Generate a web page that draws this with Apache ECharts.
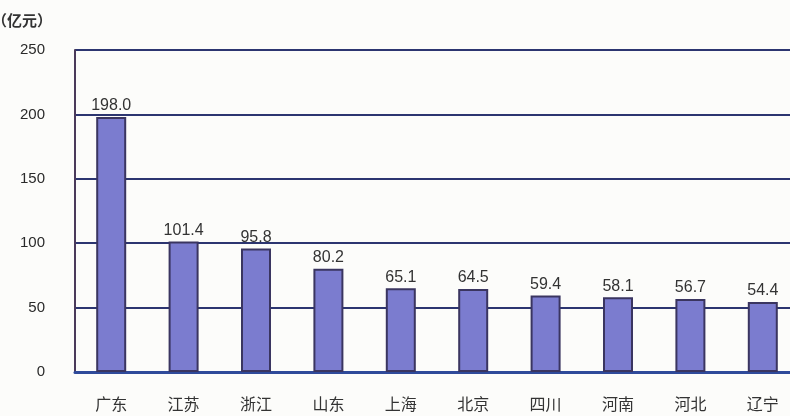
<!DOCTYPE html>
<html><head><meta charset="utf-8">
<script src="https://cdn.jsdelivr.net/npm/echarts@6/dist/echarts.min.js"></script>
<style>html,body{margin:0;padding:0;background:#fcfcfa;}#c{width:790px;height:416px;}</style>
</head><body><div id="c"></div>
<script>
const categories = ['广东','江苏','浙江','山东','上海','北京','四川','河南','河北','辽宁'];
const values = [198.0, 101.4, 95.8, 80.2, 65.1, 64.5, 59.4, 58.1, 56.7, 54.4];
const yTicks = [0, 50, 100, 150, 200, 250];
const unitLabel = '（亿元）';

const chart = echarts.init(document.getElementById('c'));
chart.setOption({
  backgroundColor: '#fcfcfa',
  animation: false,
  grid: { left: 75, width: 724, top: 50, height: 322, outerBoundsMode: 'none', containLabel: false },
  graphic: [{ type: 'text', left: -8, top: 13, style: { text: unitLabel, fill: '#333', font: 'bold 15px "Noto Sans CJK SC"' } }],
  xAxis: {
    type: 'category', data: categories,
    axisLine: { show: true, lineStyle: { color: '#2f4a9a', width: 3 } },
    axisTick: { show: false },
    axisLabel: { color: '#333', fontSize: 16, fontFamily: 'Noto Sans CJK SC', margin: 24 }
  },
  yAxis: {
    type: 'value', min: 0, max: 250, interval: 50,
    axisLine: { show: true, lineStyle: { color: '#4a3a5a', width: 2 } },
    axisTick: { show: false },
    axisLabel: { color: '#2a2a2a', fontSize: 15, fontFamily: 'Liberation Sans', margin: 30,
      formatter: v => yTicks.includes(v) ? String(v) : '' },
    splitLine: { show: true, lineStyle: { color: '#2c3570', width: 2 } }
  },
  series: [{
    type: 'bar', data: values, barWidth: 30,
    itemStyle: { color: '#7b7ccf', borderColor: '#3a3560', borderWidth: 2 },
    label: { show: true, position: 'top', distance: 3, color: '#333', fontSize: 16, fontFamily: 'Liberation Sans',
      formatter: p => p.value.toFixed(1) }
  }]
});
</script></body></html>
